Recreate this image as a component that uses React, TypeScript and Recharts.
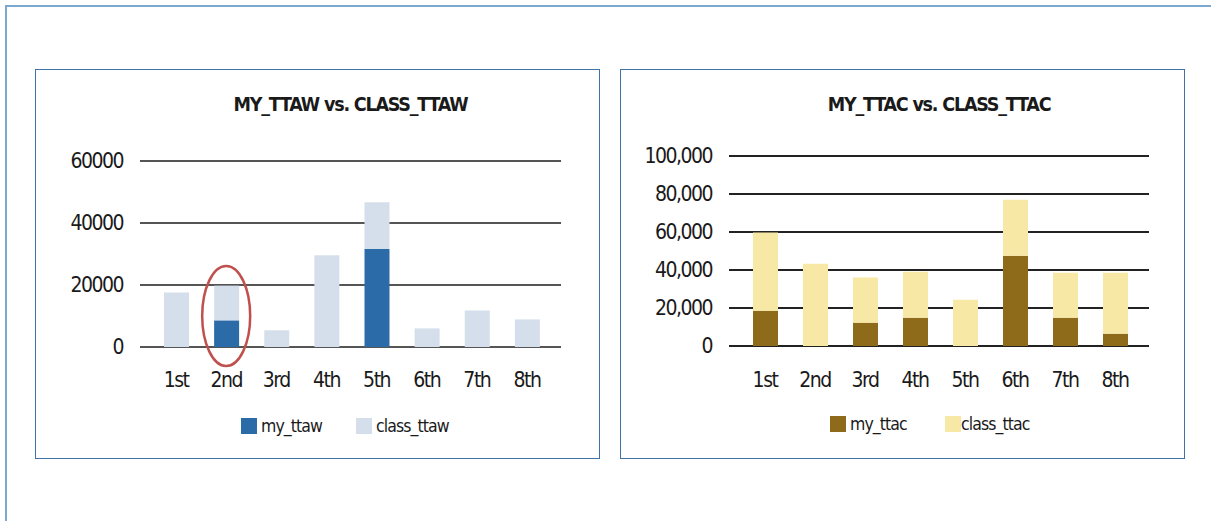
import React from "react"
import {
  BarChart,
  Bar,
  XAxis,
  YAxis,
  CartesianGrid,
  Legend,
  ReferenceDot,
} from "recharts"

const grades = ["1st", "2nd", "3rd", "4th", "5th", "6th", "7th", "8th"]

// stacked segments
const myTtaw = [0, 8600, 0, 0, 31600, 0, 0, 0]
const classTtaw = [17600, 11200, 5400, 29600, 15100, 6000, 11800, 8900]
const ttawTicks = [0, 20000, 40000, 60000]

const myTtac = [18600, 0, 12300, 14900, 0, 47500, 14900, 6500]
const classTtac = [41200, 43300, 23700, 24200, 24400, 29500, 23700, 32100]
const ttacTicks = [0, 20000, 40000, 60000, 80000, 100000]

// red circle drawn around this grade
const highlightGrade = "2nd"
const highlightValue = 10000

const FONT = "'DejaVu Sans Condensed', 'Liberation Sans Narrow', sans-serif"
const TEXT = "#1a1a1a"

const ttawData = grades.map((g, i) => ({ grade: g, my: myTtaw[i], cls: classTtaw[i] }))
const ttacData = grades.map((g, i) => ({ grade: g, my: myTtac[i], cls: classTtac[i] }))

function makeLegend(padLeft: number, textGaps: number[], names: string[]) {
  return function LegendBox(props: any) {
    const payload = [...(props.payload || [])].sort(
      (a: any, b: any) => names.indexOf(a.value) - names.indexOf(b.value)
    )
    return (
      <div
        style={{
          display: "flex",
          alignItems: "center",
          height: 20,
          paddingLeft: padLeft,
          fontFamily: FONT,
          fontSize: 17.5,
          letterSpacing: -0.9,
          color: TEXT,
        }}
      >
        {payload.map((p: any, i: number) => (
          <div key={i} style={{ display: "flex", alignItems: "center", width: 115 }}>
            <span
              style={{
                display: "inline-block",
                width: 16,
                height: 16,
                background: p.color,
                marginRight: textGaps[i],
              }}
            />
            <span>{p.value}</span>
          </div>
        ))}
      </div>
    )
  }
}

type PanelProps = {
  left: number
  title: string
  data: { grade: string; my: number; cls: number }[]
  names: [string, string]
  colors: [string, string]
  ticks: number[]
  fmt: (v: number) => string
  grid: string
  yWidth: number
  marginRight: number
  marginTop: number
  marginBottom: number
  xHeight: number
  tickMargin: number
  legendPad: number
  textGaps: number[]
  highlight?: boolean
}

const tickStyle = { fontSize: 21, fill: TEXT, fontFamily: FONT, letterSpacing: -1.5 }

function Panel(p: PanelProps) {
  const W = 563
  const H = 388
  const plotW = W - p.yWidth - p.marginRight
  return (
    <div
      style={{
        position: "absolute",
        left: p.left,
        top: 69,
        width: 565,
        height: 390,
        boxSizing: "border-box",
        border: "1px solid #3f72a6",
        background: "#fff",
      }}
    >
      <div
        style={{
          position: "absolute",
          left: p.yWidth,
          width: plotW,
          top: 23,
          lineHeight: "24px",
          textAlign: "center",
          fontFamily: FONT,
          fontWeight: "bold",
          fontSize: 19.5,
          letterSpacing: -1.2,
          color: TEXT,
        }}
      >
        {p.title}
      </div>
      <BarChart
        width={W}
        height={H}
        data={p.data}
        barSize={25}
        margin={{ top: p.marginTop, right: p.marginRight, left: 0, bottom: p.marginBottom }}
      >
        <CartesianGrid vertical={false} stroke={p.grid} strokeWidth={2} />
        <XAxis
          dataKey="grade"
          axisLine={false}
          tickLine={false}
          tickSize={0}
          tickMargin={p.tickMargin}
          height={p.xHeight}
          padding={{ left: 11, right: 9 }}
          interval={0}
          tick={tickStyle}
        />
        <YAxis
          domain={[0, p.ticks[p.ticks.length - 1]]}
          ticks={p.ticks}
          tickFormatter={p.fmt}
          axisLine={false}
          tickLine={false}
          tickSize={0}
          tickMargin={17}
          width={p.yWidth}
          tick={tickStyle}
        />
        <Legend verticalAlign="bottom" content={makeLegend(p.legendPad, p.textGaps, p.names)} />
        <Bar dataKey="my" name={p.names[0]} stackId="a" fill={p.colors[0]} isAnimationActive={false} />
        <Bar dataKey="cls" name={p.names[1]} stackId="a" fill={p.colors[1]} isAnimationActive={false} />
        {p.highlight && (
          <ReferenceDot
            x={highlightGrade}
            y={highlightValue}
            ifOverflow="visible"
            shape={(s: any) => (
              <ellipse cx={s.cx} cy={s.cy} rx={24} ry={50} fill="none" stroke="#c0504d" strokeWidth={2.5} />
            )}
          />
        )}
      </BarChart>
    </div>
  )
}

export default function App() {
  return (
    <div
      style={{
        position: "fixed",
        left: 0,
        top: 0,
        width: 1211,
        height: 521,
        overflow: "hidden",
        background: "#fff",
      }}
    >
      <div
        style={{
          position: "absolute",
          left: 5,
          top: 5,
          width: 1400,
          height: 800,
          borderTop: "2px solid #7fa8cf",
          borderLeft: "2px solid #7fa8cf",
        }}
      />
      <Panel
        left={35}
        title="MY_TTAW vs. CLASS_TTAW"
        data={ttawData}
        names={["my_ttaw", "class_ttaw"]}
        colors={["#2b6ca8", "#d5dfec"]}
        ticks={ttawTicks}
        fmt={(v) => String(v)}
        grid="#555"
        yWidth={104}
        marginRight={38}
        marginTop={91}
        marginBottom={22}
        xHeight={69}
        tickMargin={25}
        legendPad={205}
        textGaps={[4, 4]}
        highlight
      />
      <Panel
        left={620}
        title="MY_TTAC vs. CLASS_TTAC"
        data={ttacData}
        names={["my_ttac", "class_ttac"]}
        colors={["#8e6b1a", "#f8e8a5"]}
        ticks={ttacTicks}
        fmt={(v) => v.toLocaleString("en-US")}
        grid="#222"
        yWidth={108}
        marginRight={35}
        marginTop={86}
        marginBottom={24}
        xHeight={68}
        tickMargin={26}
        legendPad={209}
        textGaps={[4, 0]}
      />
    </div>
  )
}
